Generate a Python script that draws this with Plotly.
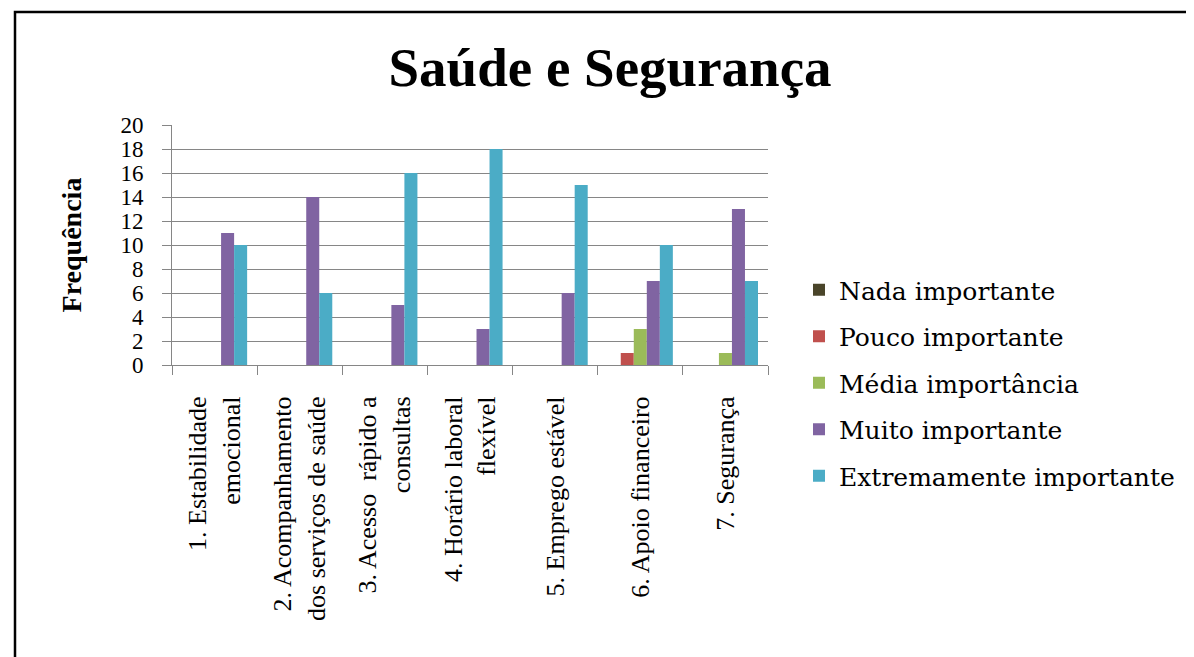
import plotly.graph_objects as go

categories = [
    "1. Estabilidade<br>emocional",
    "2. Acompanhamento<br>dos serviços de saúde",
    "3. Acesso  rápido a<br>consultas",
    "4. Horário laboral<br>flexível",
    "5. Emprego estável",
    "6. Apoio financeiro",
    "7. Segurança",
]
series_names = ["Nada importante", "Pouco importante", "Média importância",
                "Muito importante", "Extremamente importante"]
nada = [0, 0, 0, 0, 0, 0, 0]
pouco = [0, 0, 0, 0, 0, 1, 0]
media = [0, 0, 0, 0, 0, 3, 1]
muito = [11, 14, 5, 3, 6, 7, 13]
extremamente = [10, 6, 16, 18, 15, 10, 7]
series_values = [nada, pouco, media, muito, extremamente]
colors = ["#4A452A", "#C0504D", "#9BBB59", "#8064A2", "#4BACC6"]

# page has an 8px body margin; work in window pixels and shift
OFF = 8
W, H = 1194 - OFF, 657 - OFF
L, R, T, B = 172 - OFF, 768 - OFF, 125 - OFF, 365 - OFF   # plot area box

fig = go.Figure()
for name, vals, col in zip(series_names, series_values, colors):
    fig.add_trace(go.Bar(x=categories, y=vals, name=name, marker_color=col,
                         marker_line_width=0, legendgroup=name))

pw, ph = R - L, B - T
def px(x):  # window x -> paper
    return (x - OFF - L) / pw
def py(y):  # window y -> paper
    return (B - (y - OFF)) / ph

fig.update_layout(
    width=W, height=H,
    margin=dict(l=L, r=W - R, t=T, b=H - B, pad=0),
    paper_bgcolor="white", plot_bgcolor="white",
    barmode="group", bargap=0.235, bargroupgap=0,
    title=dict(text="<b>Saúde e Segurança</b>", x=(610 - OFF) / W, xanchor="center",
               y=1 - (67 - OFF) / H, yanchor="middle",
               font=dict(family="Liberation Serif", size=55, color="black")),
    xaxis=dict(showline=True, linecolor="#868686", linewidth=1,
               ticks="outside", tickson="boundaries", ticklen=9, tickcolor="#868686",
               tickangle=-90, ticklabelstandoff=20,
               tickfont=dict(family="Liberation Serif", size=26, color="black"),
               showgrid=False),
    yaxis=dict(range=[0, 20], dtick=2, showline=True, linecolor="#868686", linewidth=1,
               ticks="outside", ticklen=9, tickcolor="#868686",
               showgrid=True, gridcolor="#868686", gridwidth=1,
               ticklabelstandoff=14,
               tickfont=dict(family="Liberation Serif", size=23, color="black"),
               title=dict(text="<b>Frequência</b>", standoff=30,
                          font=dict(family="Liberation Serif", size=28, color="black"))),
    legend=dict(x=px(799), xanchor="left", y=py(383), yanchor="middle",
                font=dict(family="DejaVu Serif", size=25, color="black"),
                tracegroupgap=11, bgcolor="rgba(0,0,0,0)", itemwidth=30),
    shapes=[dict(type="rect", xref="paper", yref="paper",
                 x0=px(15), x1=px(1194 + 20), y0=py(657 + 20), y1=py(12),
                 line=dict(color="black", width=2.5), fillcolor="rgba(0,0,0,0)")],
)

fig.write_html("out.html")
